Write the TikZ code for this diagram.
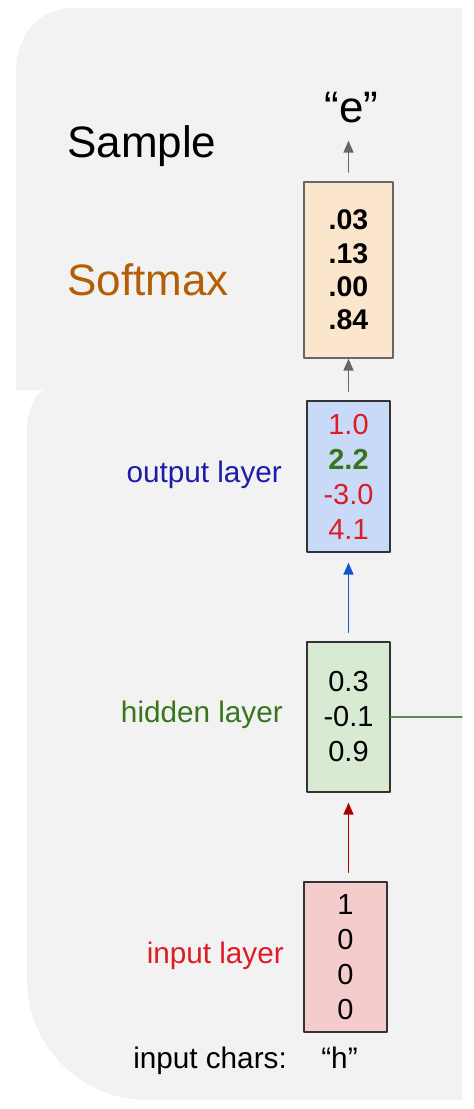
\documentclass[tikz,border=0pt]{standalone}
\usepackage{fontspec}
\setmainfont{Liberation Sans}
\usetikzlibrary{arrows.meta}
\definecolor{panel}{HTML}{F2F2F2}
\definecolor{softfill}{HTML}{FCE5CD}
\definecolor{softline}{HTML}{666666}
\definecolor{outfill}{HTML}{C9DAF8}
\definecolor{hidfill}{HTML}{D9EAD3}
\definecolor{inpfill}{HTML}{F4CCCC}
\definecolor{boxline}{HTML}{333333}
\definecolor{numred}{HTML}{DD1C24}
\definecolor{darkgreen}{HTML}{38761D}
\definecolor{linegreen}{HTML}{5E8A50}
\definecolor{labelblue}{HTML}{1C1CA6}
\definecolor{arrowblue}{HTML}{1155CC}
\definecolor{arrowred}{HTML}{AA0000}
\definecolor{arrowgray}{HTML}{666666}
\definecolor{softtext}{HTML}{B45F06}
\tikzset{
  vecbox/.style={draw=boxline, line width=1.3pt, minimum width=83pt, minimum height=150pt,
    inner sep=0pt, align=center, font=\fontsize{29}{35}\selectfont},
  bigtext/.style={inner sep=0pt, font=\fontsize{44}{50}\selectfont},
  layertext/.style={inner sep=0pt, anchor=base east, font=\fontsize{29.7}{35}\selectfont}
}

\begin{document}
\begin{tikzpicture}[line cap=round,line join=round,>={Triangle[length=12pt,width=10pt]},x=1pt,y=-1pt]
    \useasboundingbox (0,0) rectangle (474,1109);
    % panels
    \fill[panel] (16,390) -- (16,73) .. controls (16,37) and (37,8) .. (73,8) -- (462,8) -- (462,390) -- cycle;
    \fill[panel] (45,390) -- (462,390) -- (462,1100) -- (147,1100) .. controls (81,1100) and (27,1046) .. (27,980)
        -- (27,428) .. controls (27,412) and (36,390) .. (45,390) -- cycle;

    \draw(348.5,270) node[vecbox, fill=softfill, draw=softline, minimum width=89pt, minimum height=176pt,
        font=\fontsize{28.5}{33.3}\selectfont\bfseries] (softmax) {.03\\.13\\.00\\.84};
    \draw(348.5,476.5) node[vecbox, fill=outfill, minimum height=151pt] (output)
        {\textcolor{numred}{1.0}\\\textcolor{darkgreen}{\bfseries 2.2}\\\textcolor{numred}{-3.0}\\\textcolor{numred}{4.1}};
    \draw(348.5,717) node[vecbox, fill=hidfill] (hidden) {0.3\\-0.1\\0.9};
    \draw(345.5,957) node[vecbox, fill=inpfill] (input) {1\\0\\0\\0};

    \draw(351.5,122) node[bigtext, anchor=base] (sampled) {“e”};
    \draw(67,157) node[bigtext, anchor=base west] (samplelabel) {Sample};
    \draw(67,295) node[bigtext, anchor=base west, text=softtext] (softmaxlabel) {Softmax};
    \draw(282,482) node[layertext, text=labelblue] (outputlabel) {output layer};
    \draw(283,722) node[layertext, text=darkgreen] (hiddenlabel) {hidden layer};
    \draw(284,963) node[layertext, text=numred] (inputlabel) {input layer};
    \draw(287,1068) node[layertext] (charslabel) {input chars:};
    \draw(339.5,1068) node[layertext, anchor=base] (inchar) {“h”};
    \coordinate (hiddenout) at (462,717);

    % Edges
    \foreach \source/\target/\col/\gap in {output/softmax/arrowgray/0pt, hidden/output/arrowblue/10pt, input/hidden/arrowred/10pt} {
            \draw[->, \col, line width=1.4pt, shorten <=9pt, shorten >=\gap] (\source.north -| \target.south) -- (\target.south);
        }
    \draw[->, arrowgray, line width=1.4pt, shorten <=9pt, shorten >=18pt] (softmax.north) -- (softmax.north |- sampled.south);
    \draw[linegreen, line width=1.3pt] (hidden.east) -- (hiddenout);
\end{tikzpicture}
\end{document}
